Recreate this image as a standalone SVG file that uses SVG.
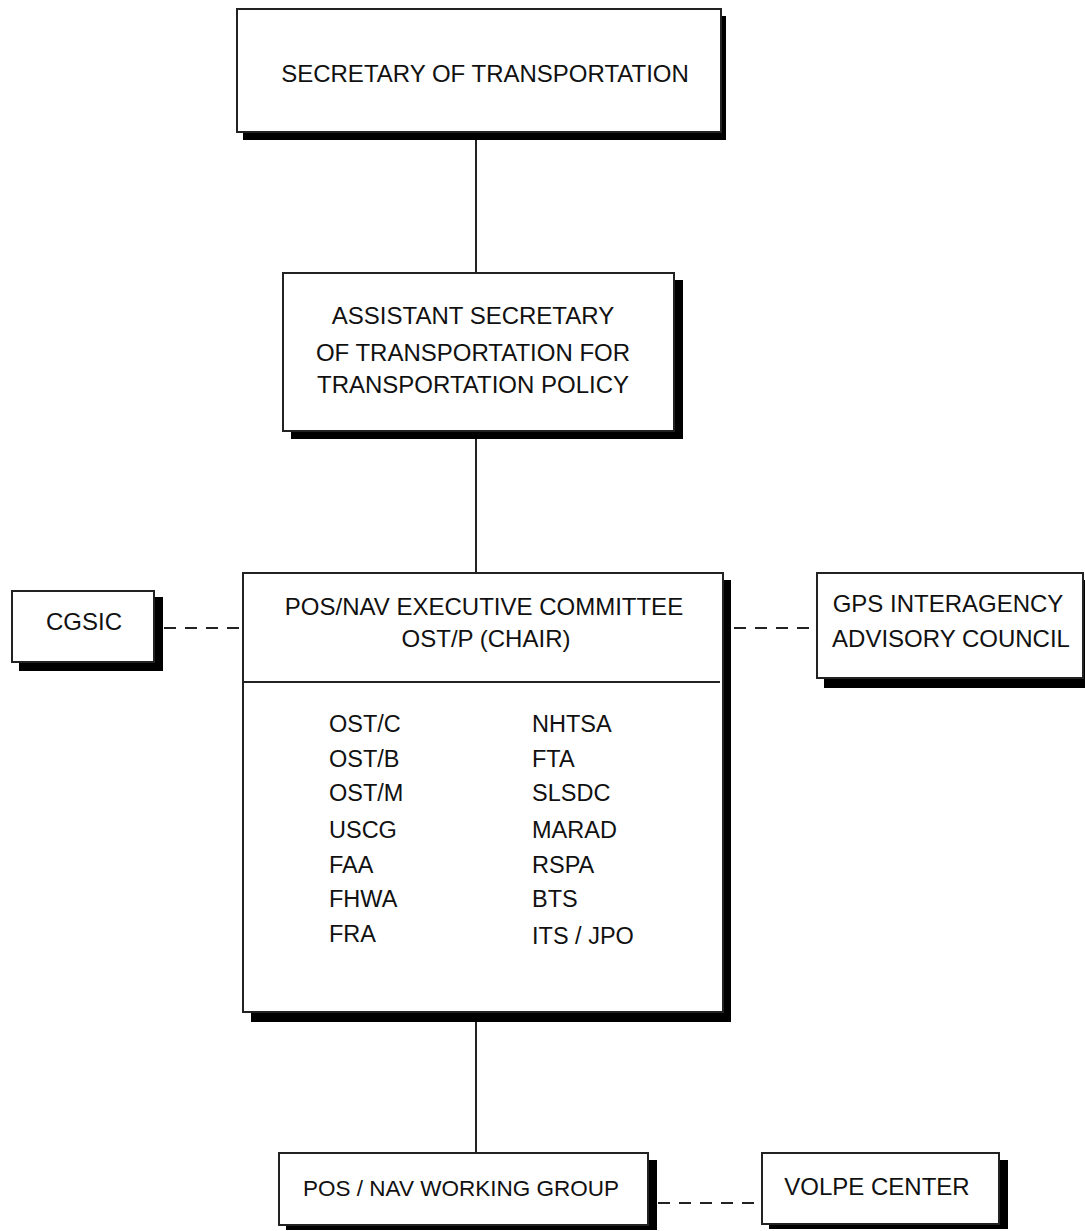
<svg xmlns="http://www.w3.org/2000/svg" width="1085" height="1231" viewBox="0 0 1085 1231">
<style>
  .box { fill: #ffffff; stroke: #222222; stroke-width: 2; }
  .shadow { fill: #000000; }
  .t { font-family: "Liberation Sans", Arial, sans-serif; font-size: 24px; fill: #111111; }
  .c { text-anchor: middle; }
  .l { font-size: 23.5px; }
  .conn { stroke: #222222; stroke-width: 2; fill: none; }
  .dash { stroke: #222222; stroke-width: 2; fill: none; stroke-dasharray: 12 9; }
</style>
<rect width="1085" height="1231" fill="#ffffff"/>
<g id="connectors">
  <line class="conn" x1="476" y1="140" x2="476" y2="273"/>
  <line class="conn" x1="476" y1="439" x2="476" y2="573"/>
  <line class="conn" x1="476" y1="1022" x2="476" y2="1153"/>
  <line class="dash" x1="164" y1="628" x2="243" y2="628"/>
  <line class="dash" x1="734" y1="628" x2="817" y2="628"/>
  <line class="dash" x1="658" y1="1203" x2="762" y2="1203"/>
</g>
<g id="secretary">
  <rect class="shadow" x="243" y="16" width="483" height="124"/>
  <rect class="box" x="237" y="9" width="484" height="123"/>
  <text class="t c" x="485" y="82">SECRETARY OF TRANSPORTATION</text>
</g>
<g id="assistant-secretary">
  <rect class="shadow" x="291" y="280" width="392" height="159"/>
  <rect class="box" x="283" y="273" width="391" height="158"/>
  <text class="t c" x="473" y="324">ASSISTANT SECRETARY</text>
  <text class="t c" x="473" y="361">OF TRANSPORTATION FOR</text>
  <text class="t c" x="473" y="393">TRANSPORTATION POLICY</text>
</g>
<g id="executive-committee">
  <rect class="shadow" x="251" y="580" width="480" height="442"/>
  <rect class="box" x="243" y="573" width="480" height="439"/>
  <line class="conn" x1="243" y1="682" x2="720" y2="682"/>
  <text class="t c" x="484" y="615">POS/NAV EXECUTIVE COMMITTEE</text>
  <text class="t c" x="486" y="647">OST/P (CHAIR)</text>
  <text class="t l" x="329" y="732">OST/C</text>
  <text class="t l" x="329" y="767">OST/B</text>
  <text class="t l" x="329" y="801">OST/M</text>
  <text class="t l" x="329" y="838">USCG</text>
  <text class="t l" x="329" y="873">FAA</text>
  <text class="t l" x="329" y="907">FHWA</text>
  <text class="t l" x="329" y="942">FRA</text>
  <text class="t l" x="532" y="732">NHTSA</text>
  <text class="t l" x="532" y="767">FTA</text>
  <text class="t l" x="532" y="801">SLSDC</text>
  <text class="t l" x="532" y="838">MARAD</text>
  <text class="t l" x="532" y="873">RSPA</text>
  <text class="t l" x="532" y="907">BTS</text>
  <text class="t l" x="532" y="944">ITS / JPO</text>
</g>
<g id="cgsic">
  <rect class="shadow" x="19" y="597" width="144" height="74"/>
  <rect class="box" x="12" y="591" width="142" height="71"/>
  <text class="t c" x="84" y="630">CGSIC</text>
</g>
<g id="gps-council">
  <rect class="shadow" x="824" y="580" width="266" height="108"/>
  <rect class="box" x="817" y="573" width="266" height="105"/>
  <text class="t c" x="948" y="612">GPS INTERAGENCY</text>
  <text class="t c" x="951" y="647">ADVISORY COUNCIL</text>
</g>
<g id="working-group">
  <rect class="shadow" x="286" y="1160" width="371" height="70"/>
  <rect class="box" x="279" y="1153" width="369" height="72"/>
  <text class="t c" x="461" y="1196" style="font-size:22.5px">POS / NAV WORKING GROUP</text>
</g>
<g id="volpe">
  <rect class="shadow" x="769" y="1160" width="239" height="69"/>
  <rect class="box" x="762" y="1153" width="237" height="71"/>
  <text class="t c" x="877" y="1195">VOLPE CENTER</text>
</g>
</svg>
